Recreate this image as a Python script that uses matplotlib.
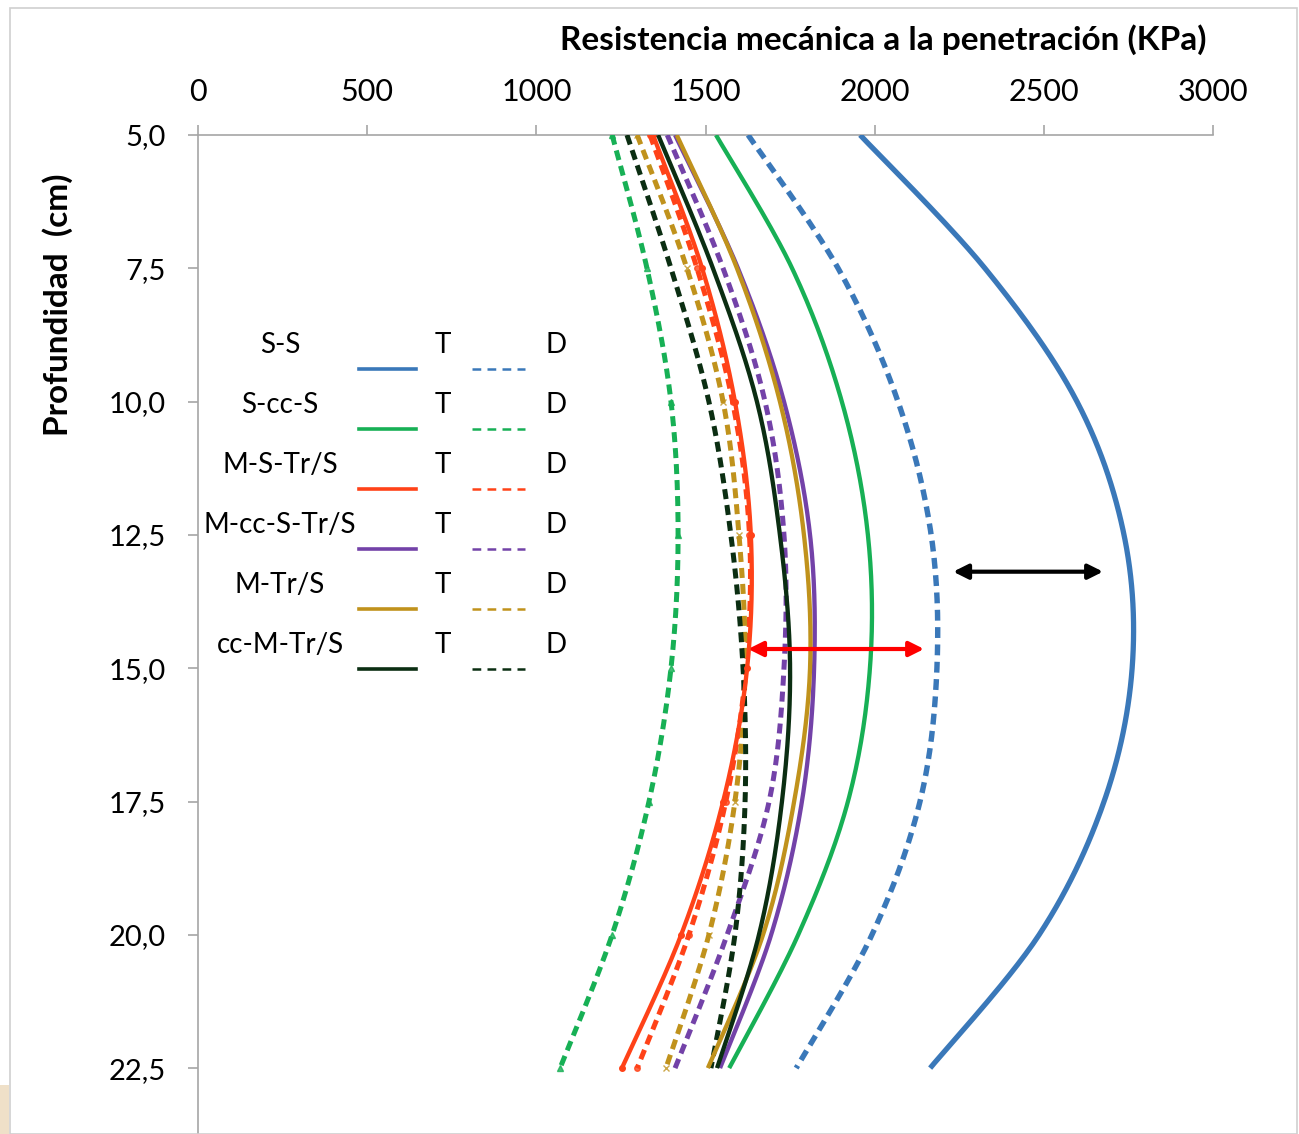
import numpy as np
import matplotlib
matplotlib.use("Agg")
import matplotlib.pyplot as plt
from matplotlib.lines import Line2D
from matplotlib.patches import Rectangle

plt.rcParams['font.family'] = ['Lato', 'DejaVu Sans']

# depths (cm) and penetration resistance (KPa)
depth = [5.0, 7.5, 10.0, 12.5, 15.0, 17.5, 20.0, 22.5]

ss_t = [1957, 2326, 2598, 2737, 2761, 2678, 2486, 2164]
ss_d = [1626, 1892, 2069, 2167, 2184, 2134, 1992, 1768]
sccs_t = [1531, 1756, 1903, 1980, 1986, 1921, 1774, 1570]
sccs_d = [1224, 1327, 1398, 1419, 1398, 1333, 1224, 1070]
mstr_t = [1345, 1490, 1587, 1634, 1623, 1552, 1428, 1253]
mstr_d = [1336, 1475, 1580, 1630, 1620, 1560, 1451, 1298]
mccstr_t = [1410, 1596, 1732, 1809, 1821, 1785, 1694, 1543]
mccstr_d = [1387, 1552, 1676, 1732, 1732, 1688, 1564, 1410]
mtr_t = [1415, 1593, 1720, 1791, 1809, 1762, 1670, 1507]
mtr_d = [1298, 1445, 1552, 1599, 1617, 1587, 1510, 1383]
ccmtr_t = [1360, 1522, 1652, 1720, 1750, 1726, 1658, 1534]
ccmtr_d = [1268, 1398, 1510, 1575, 1611, 1617, 1587, 1516]

labels = ["S-S", "S-cc-S", "M-S-Tr/S", "M-cc-S-Tr/S", "M-Tr/S", "cc-M-Tr/S"]
colors = ["#3a78b9", "#17b055", "#ff4218", "#7342a8", "#c0921c", "#0b2e12"]
t_series = [ss_t, sccs_t, mstr_t, mccstr_t, mtr_t, ccmtr_t]
d_series = [ss_d, sccs_d, mstr_d, mccstr_d, mtr_d, ccmtr_d]
d_markers = [None, "^", "o", None, "x", None]
t_markers = [None, None, "o", None, None, None]

xticks = [0, 500, 1000, 1500, 2000, 2500, 3000]
yticks = [5.0, 7.5, 10.0, 12.5, 15.0, 17.5, 20.0, 22.5]

# black and red double arrows (x start, x end, depth)
arrow_black = (2232, 2675, 13.19)
arrow_red = (1626, 2146, 14.64)


def smooth(xs, ys, n=30):
    # Excel-like smoothed line: Catmull-Rom through the points
    p = np.column_stack([xs, ys]).astype(float)
    p = np.vstack([p[0], p, p[-1]])
    out = []
    t = np.linspace(0, 1, n)[:, None]
    for i in range(1, len(p) - 2):
        p0, p1, p2, p3 = p[i - 1], p[i], p[i + 1], p[i + 2]
        seg = 0.5 * ((2 * p1) + (-p0 + p2) * t + (2 * p0 - 5 * p1 + 4 * p2 - p3) * t ** 2
                     + (-p0 + 3 * p1 - 3 * p2 + p3) * t ** 3)
        out.append(seg if i == 1 else seg[1:])
    out = np.vstack(out)
    return out[:, 0], out[:, 1]


W, H = 1299, 1134
fig = plt.figure(figsize=(W / 100, H / 100), dpi=100)


def fx(x):
    return x / W


def fy(y):
    return 1 - y / H


ymax = 5 + (H - 135) / (133.3 / 2.5)
ax = fig.add_axes([fx(198), 0, fx(1213) - fx(198), fy(135)])
ax.set_xlim(0, 3000)
ax.set_ylim(ymax, 5.0)

for i in range(6):
    xs, ys = smooth(d_series[i], depth)
    lw = 3.9 if i == 0 else 3.6
    ax.plot(xs, ys, color=colors[i], lw=lw, dashes=(2.0, 1.2), zorder=3)
    if d_markers[i]:
        ax.plot(d_series[i], depth, ls="none", marker=d_markers[i], ms=4,
                color=colors[i], mew=1, alpha=0.8, zorder=3)
for i in range(6):
    xs, ys = smooth(t_series[i], depth)
    lw = 3.8 if i == 0 else 3.1
    ax.plot(xs, ys, color=colors[i], lw=lw, solid_capstyle="butt", zorder=4)
    if t_markers[i]:
        ax.plot(t_series[i], depth, ls="none", marker=t_markers[i], ms=4,
                color=colors[i], zorder=4)

for (x0, x1, yv), c in [(arrow_black, "black"), (arrow_red, "#ff0000")]:
    ax.annotate("", xy=(x1, yv), xytext=(x0, yv),
                arrowprops=dict(arrowstyle="<|-|>", color=c, lw=3,
                                mutation_scale=22, shrinkA=0, shrinkB=0), zorder=6)

grey = "#a6a6a6"
for s in ["right", "bottom"]:
    ax.spines[s].set_visible(False)
ax.spines["top"].set_color(grey)
ax.spines["left"].set_color(grey)
ax.spines["top"].set_linewidth(1.2)
ax.spines["left"].set_linewidth(1.2)
ax.xaxis.tick_top()
ax.set_xticks(xticks)
ax.set_xticklabels([str(v) for v in xticks])
ax.set_yticks(yticks)
ax.set_yticklabels([f"{v:.1f}".replace(".", ",") for v in yticks])
ax.tick_params(axis="both", colors=grey, labelcolor="black",
               length=7, width=1.2, direction="out")
ax.tick_params(axis="x", pad=14, labelsize=22)
ax.tick_params(axis="y", pad=16, labelsize=21)

fig.text(fx(883), fy(40), "Resistencia mecánica a la penetración (KPa)",
         ha="center", va="center", fontsize=24, fontweight="bold")
fig.text(fx(58), fy(305), "Profundidad  (cm)", ha="center", va="center",
         rotation=90, fontsize=24, fontweight="bold")

# custom legend block
for i, lab in enumerate(labels):
    yr = 345 + 60 * i
    fig.text(fx(280), fy(yr), lab, ha="center", va="center", fontsize=20)
    fig.text(fx(443), fy(yr), "T", ha="center", va="center", fontsize=20)
    fig.text(fx(556), fy(yr), "D", ha="center", va="center", fontsize=20)
    fig.add_artist(Line2D([fx(359), fx(416)], [fy(yr + 24)] * 2, color=colors[i], lw=2.6))
    fig.add_artist(Line2D([fx(472), fx(525)], [fy(yr + 24)] * 2, color=colors[i], lw=1.8,
                          dashes=(3.5, 2.5)))

# slide frame
fig.add_artist(Rectangle((fx(10), 0), fx(1297) - fx(10), fy(8), fill=False,
                         edgecolor="#cfcfcf", lw=1.2, transform=fig.transFigure))
fig.add_artist(Rectangle((0, 0), fx(9), fy(1085), color="#efe0c8",
                         transform=fig.transFigure, lw=0))

fig.savefig("out.png", dpi=100)
